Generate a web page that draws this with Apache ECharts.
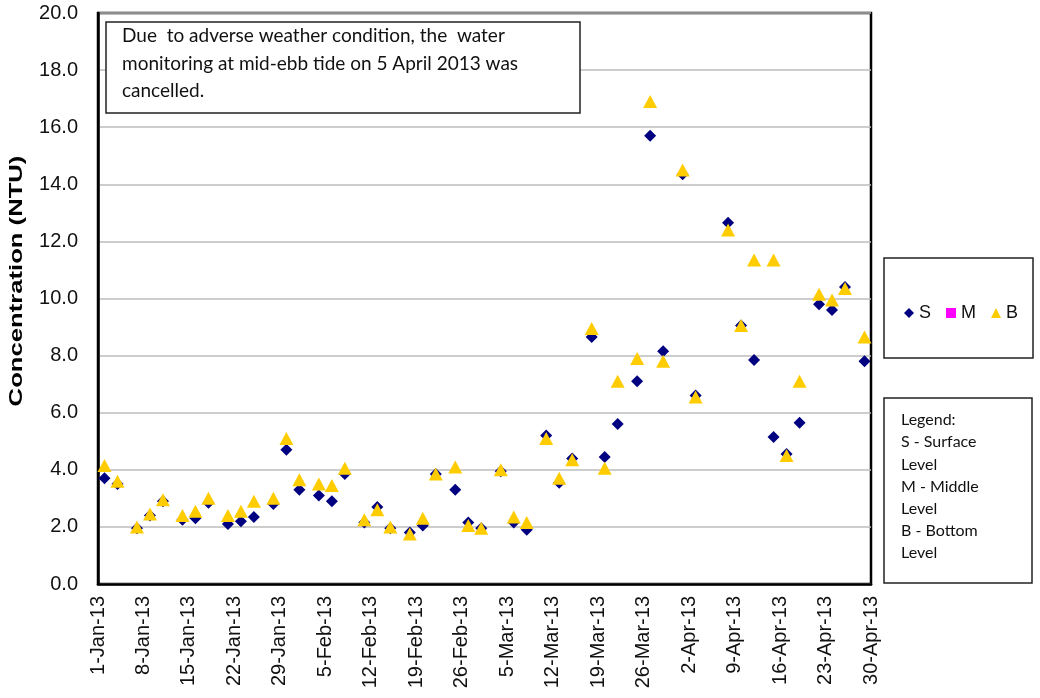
<!DOCTYPE html>
<html>
<head>
<meta charset="utf-8">
<title>Turbidity</title>
<script src="https://cdn.jsdelivr.net/npm/echarts@6/dist/echarts.min.js"></script>
<style>
  html, body { margin: 0; padding: 0; background: #fff; }
  #chart { width: 1040px; height: 698px; }
</style>
</head>
<body>
<div id="chart"></div>
<script>
// sampling dates (2013)
var sampleDates = [
  '2013-01-02', '2013-01-04', '2013-01-07', '2013-01-09', '2013-01-11',
  '2013-01-14', '2013-01-16', '2013-01-18', '2013-01-21', '2013-01-23',
  '2013-01-25', '2013-01-28', '2013-01-30', '2013-02-01', '2013-02-04',
  '2013-02-06', '2013-02-08', '2013-02-11', '2013-02-13', '2013-02-15',
  '2013-02-18', '2013-02-20', '2013-02-22', '2013-02-25', '2013-02-27',
  '2013-03-01', '2013-03-04', '2013-03-06', '2013-03-08', '2013-03-11',
  '2013-03-13', '2013-03-15', '2013-03-18', '2013-03-20', '2013-03-22',
  '2013-03-25', '2013-03-27', '2013-03-29', '2013-04-01', '2013-04-03',
  '2013-04-08', '2013-04-10', '2013-04-12', '2013-04-15', '2013-04-17',
  '2013-04-19', '2013-04-22', '2013-04-24', '2013-04-26', '2013-04-29'
];
// S - surface level
var surface = [
  3.7, 3.5, 1.95, 2.4, 2.9, 2.25, 2.3, 2.85, 2.1, 2.2,
  2.35, 2.8, 4.7, 3.3, 3.1, 2.9, 3.85, 2.15, 2.7, 1.95,
  1.8, 2.05, 3.85, 3.3, 2.15, 1.95, 3.95, 2.15, 1.9, 5.2,
  3.55, 4.4, 8.65, 4.45, 5.6, 7.1, 15.7, 8.15, 14.35, 6.6,
  12.65, 9.05, 7.85, 5.15, 4.55, 5.65, 9.8, 9.6, 10.4, 7.8
];
// M - middle level (no data plotted)
var middle = [];
// B - bottom level
var bottom = [
  4.15, 3.6, 2.0, 2.45, 2.95, 2.4, 2.55, 3.0, 2.4, 2.55,
  2.9, 3.0, 5.1, 3.65, 3.5, 3.45, 4.05, 2.25, 2.6, 2.0,
  1.75, 2.3, 3.85, 4.1, 2.05, 1.95, 4.0, 2.35, 2.15, 5.1,
  3.7, 4.35, 8.95, 4.05, 7.1, 7.9, 16.9, 7.8, 14.5, 6.55,
  12.4, 9.05, 11.35, 11.35, 4.5, 7.1, 10.15, 9.95, 10.35, 8.65
];
var noteLines = [
  'Due  to adverse weather condition, the  water',
  'monitoring at mid-ebb tide on 5 April 2013 was',
  'cancelled.'
];
var legendLines = ['Legend:', 'S - Surface', 'Level', 'M - Middle', 'Level', 'B - Bottom', 'Level'];

var DAY = 86400000;
var start = Date.UTC(2013, 0, 1);
var months = ['Jan', 'Feb', 'Mar', 'Apr', 'May', 'Jun', 'Jul', 'Aug', 'Sep', 'Oct', 'Nov', 'Dec'];

function dayIndex(s) {
  var p = s.split('-');
  return Math.round((Date.UTC(+p[0], +p[1] - 1, +p[2]) - start) / DAY);
}
function dayLabel(v) {
  var d = new Date(start + v * DAY);
  return d.getUTCDate() + '-' + months[d.getUTCMonth()] + '-13';
}
function pairs(vals) {
  return vals.map(function (v, i) { return [dayIndex(sampleDates[i]), v]; });
}

var font = '"Liberation Sans", Arial, sans-serif';
var bodyFont = 'Lato, "Open Sans", sans-serif';

var graphics = [
  { type: 'rect', shape: { x: 106, y: 22, width: 474, height: 91 },
    style: { fill: '#fff', stroke: '#222', lineWidth: 1.5 }, z: 10 },
  { type: 'rect', shape: { x: 884, y: 258, width: 149, height: 100 },
    style: { fill: '#fff', stroke: '#222', lineWidth: 1.5 }, z: 10 },
  { type: 'rect', shape: { x: 884, y: 398, width: 148, height: 185 },
    style: { fill: '#fff', stroke: '#222', lineWidth: 1.5 }, z: 10 },
  // y axis title, stretched like the original
  { type: 'text', x: 17, y: 281, rotation: Math.PI / 2, scaleX: 1.35, z: 11,
    style: { text: 'Concentration (NTU)', fontFamily: font, fontSize: 19, fontWeight: 'bold',
      fill: '#000', align: 'center', verticalAlign: 'middle' } }
];
noteLines.forEach(function (t, i) {
  graphics.push({ type: 'text', x: 122, y: 36 + i * 27.5, z: 11,
    style: { text: t, fontFamily: bodyFont, fontSize: 19, fill: '#111', verticalAlign: 'middle' } });
});
legendLines.forEach(function (t, i) {
  graphics.push({ type: 'text', x: 901, y: 420 + i * 22.2, z: 11,
    style: { text: t, fontFamily: bodyFont, fontSize: 16, fill: '#111', verticalAlign: 'middle' } });
});

var chart = echarts.init(document.getElementById('chart'));
chart.setOption({
  animation: false,
  grid: { left: 98, right: 169, top: 13, bottom: 114, show: true,
    borderColor: '#000', borderWidth: 2.5 },
  xAxis: {
    type: 'value', min: 0, max: 119, interval: 7,
    axisLine: { show: true, lineStyle: { color: '#000', width: 2.5 } },
    axisTick: { show: false },
    splitLine: { show: false },
    axisLabel: { rotate: 90, margin: 12, fontSize: 20, color: '#111', fontFamily: font,
      showMinLabel: true, showMaxLabel: true, formatter: dayLabel }
  },
  yAxis: {
    type: 'value', min: 0, max: 20, interval: 2,
    axisLine: { show: true, lineStyle: { color: '#000', width: 2.5 } },
    axisTick: { show: false },
    splitLine: { lineStyle: { color: '#bdbdbd', width: 1.5 } },
    axisLabel: { margin: 20, fontSize: 20, color: '#111', fontFamily: font,
      formatter: function (v) { return v.toFixed(1); } }
  },
  legend: {
    left: 899, top: 299, itemGap: 15, itemWidth: 10, itemHeight: 10,
    textStyle: { fontSize: 18, color: '#111', fontFamily: font },
    data: ['S', 'M', 'B'], z: 12
  },
  graphic: graphics,
  series: [
    { name: 'S', type: 'scatter', symbol: 'diamond', symbolSize: 12,
      itemStyle: { color: '#000080', opacity: 1 }, data: pairs(surface) },
    { name: 'M', type: 'scatter', symbol: 'rect', symbolSize: 10,
      itemStyle: { color: '#ff00ff', opacity: 1 }, data: middle },
    { name: 'B', type: 'scatter', symbol: 'triangle', symbolSize: [14, 13],
      itemStyle: { color: '#ffcc00', opacity: 1 }, data: pairs(bottom) }
  ]
});
</script>
</body>
</html>
